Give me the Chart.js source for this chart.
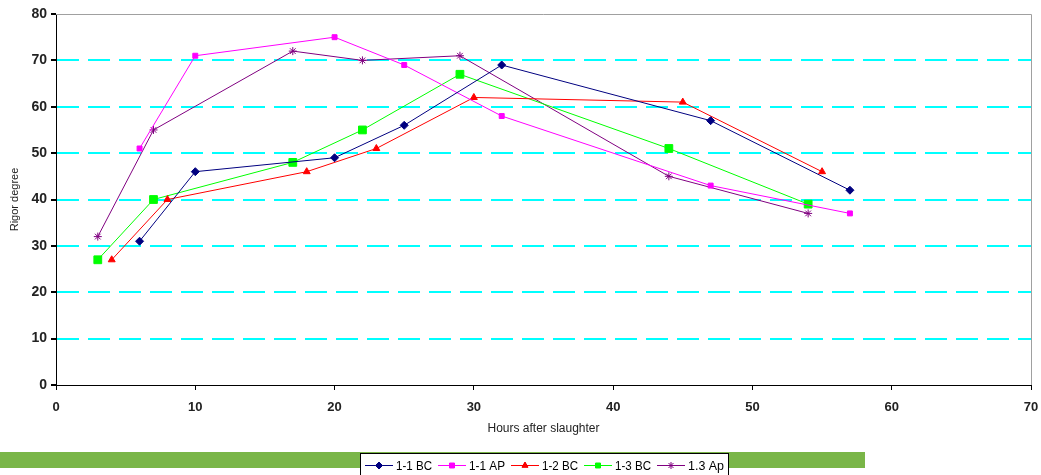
<!DOCTYPE html>
<html>
<head>
<meta charset="utf-8">
<script src="https://cdn.jsdelivr.net/npm/chart.js@4/dist/chart.umd.min.js"></script>
<style>
  html, body { margin: 0; padding: 0; background: #fff; }
  #wrap { width: 1041px; height: 475px; position: relative; }
</style>
</head>
<body>
<div id="wrap"><canvas id="rigorChart" width="1041" height="475"></canvas></div>
<script>
const seriesNames = ['1-1 BC', '1-1 AP', '1-2 BC', '1-3 BC', '1.3 Ap']

// hours after slaughter for each series
const hours11BC = [6, 10, 20, 25, 32, 47, 57]
const hours11AP = [6, 10, 20, 25, 32, 47, 57]
const hours12BC = [4, 8, 18, 23, 30, 45, 55]
const hours13BC = [3, 7, 17, 22, 29, 44, 54]
const hours13Ap = [3, 7, 17, 22, 29, 44, 54]

// rigor degree values
const rigor11BC = [31, 46, 49, 56, 69, 57, 42]
const rigor11AP = [51, 71, 75, 69, 58, 43, 37]
const rigor12BC = [27, 40, 46, 51, 62, 61, 46]
const rigor13BC = [27, 40, 48, 55, 67, 51, 39]
const rigor13Ap = [32, 55, 72, 70, 71, 45, 37]

const xTicks = [0, 10, 20, 30, 40, 50, 60, 70]
const yTicks = [0, 10, 20, 30, 40, 50, 60, 70, 80]

const toPoints = (xs, ys) => xs.map((x, i) => ({ x, y: ys[i] }))

const makeSet = (label, xs, ys, color, style, radius) => ({
  label,
  data: toPoints(xs, ys),
  borderColor: color,
  backgroundColor: color,
  borderWidth: 1,
  pointStyle: style,
  pointRadius: radius,
  pointHoverRadius: radius,
  pointBorderWidth: 1,
  showLine: true,
  tension: 0,
})

const datasets = [
  makeSet(seriesNames[0], hours11BC, rigor11BC, '#000080', 'rectRot', 4),
  makeSet(seriesNames[1], hours11AP, rigor11AP, '#ff00ff', 'rect', 3.5),
  makeSet(seriesNames[2], hours12BC, rigor12BC, '#ff0000', 'triangle', 4),
  makeSet(seriesNames[3], hours13BC, rigor13BC, '#00ff00', 'rect', 5.5),
  makeSet(seriesNames[4], hours13Ap, rigor13Ap, '#800080', 'star', 4),
]

// grey frame on top/right + green band + boxed legend under the chart
const frameAndLegend = {
  id: 'frameAndLegend',
  beforeDraw(chart) {
    const { ctx } = chart
    ctx.save()
    ctx.fillStyle = '#7ab648'
    ctx.fillRect(0, 452, 865, 16)
    ctx.restore()
  },
  afterDraw(chart) {
    const { ctx, chartArea: a } = chart
    ctx.save()
    ctx.strokeStyle = '#a0a0a0'
    ctx.lineWidth = 1
    ctx.beginPath()
    ctx.moveTo(a.left, a.top + 0.5)
    ctx.lineTo(a.right + 0.5, a.top + 0.5)
    ctx.lineTo(a.right + 0.5, a.bottom)
    ctx.stroke()

    // legend box
    const bx = 360, by = 453, bw = 368, bh = 30
    ctx.fillStyle = '#fff'
    ctx.fillRect(bx, by, bw, bh)
    ctx.strokeStyle = '#000'
    ctx.strokeRect(bx + 0.5, by + 0.5, bw, bh)

    ctx.font = '13px "Liberation Sans", Arial, sans-serif'
    ctx.textBaseline = 'middle'
    let x = bx + 5
    const cy = by + 12
    chart.data.datasets.forEach(ds => {
      ctx.strokeStyle = ds.borderColor
      ctx.lineWidth = 1
      ctx.beginPath()
      ctx.moveTo(x, cy + 0.5)
      ctx.lineTo(x + 28, cy + 0.5)
      ctx.stroke()
      Chart.helpers.drawPoint(ctx, {
        pointStyle: ds.pointStyle,
        radius: Math.min(ds.pointRadius, 3.5),
        borderWidth: 1,
      }, x + 14, cy + 0.5)
      ctx.fillStyle = ds.borderColor
      ctx.fill()
      ctx.fillStyle = '#000'
      const w = Math.min(ctx.measureText(ds.label).width, 36)
      ctx.fillText(ds.label, x + 31, cy + 1, 36)
      x += 31 + w + 6
    })
    ctx.restore()
  },
}

new Chart(document.getElementById('rigorChart'), {
  type: 'scatter',
  data: { datasets },
  plugins: [frameAndLegend],
  options: {
    responsive: false,
    animation: false,
    layout: { padding: { left: 0, right: 0, top: 14, bottom: 30 } },
    plugins: {
      legend: { display: false },
      tooltip: { enabled: false },
    },
    scales: {
      x: {
        type: 'linear',
        min: 0,
        max: 70,
        afterBuildTicks: axis => { axis.ticks = xTicks.map(value => ({ value })) },
        afterFit: axis => {
          axis.height = 60
          axis.paddingLeft = 0
          axis.paddingRight = 10
        },
        grid: { drawOnChartArea: false, drawTicks: true, tickLength: 5, tickColor: '#000' },
        border: { display: true, color: '#000', width: 1 },
        ticks: {
          color: '#222',
          padding: 10,
          maxRotation: 0,
          font: { family: '"Liberation Sans", Arial, sans-serif', size: 13, weight: 'bold' },
        },
        title: {
          display: true,
          text: 'Hours after slaughter',
          color: '#222',
          padding: { top: 0, bottom: 9 },
          font: { family: '"Liberation Sans", Arial, sans-serif', size: 12 },
        },
      },
      y: {
        min: 0,
        max: 80,
        afterBuildTicks: axis => { axis.ticks = yTicks.map(value => ({ value })) },
        afterFit: axis => { axis.width = 56 },
        grid: {
          color: ctx => (ctx.tick && (ctx.tick.value === 0 || ctx.tick.value === 80)) ? 'rgba(0,0,0,0)' : '#00ffff',
          lineWidth: 2,
          tickLength: 5,
          tickColor: '#000',
          tickBorderDash: [],
        },
        border: { display: true, color: '#000', width: 1, dash: [22, 9] },
        ticks: {
          color: '#222',
          padding: 4,
          font: { family: '"Liberation Sans", Arial, sans-serif', size: 14, weight: 'bold' },
        },
        title: {
          display: true,
          text: 'Rigor degree',
          color: '#222',
          padding: { top: 8, bottom: 0 },
          font: { family: '"Liberation Sans", Arial, sans-serif', size: 11 },
        },
      },
    },
  },
})
</script>
</body>
</html>
